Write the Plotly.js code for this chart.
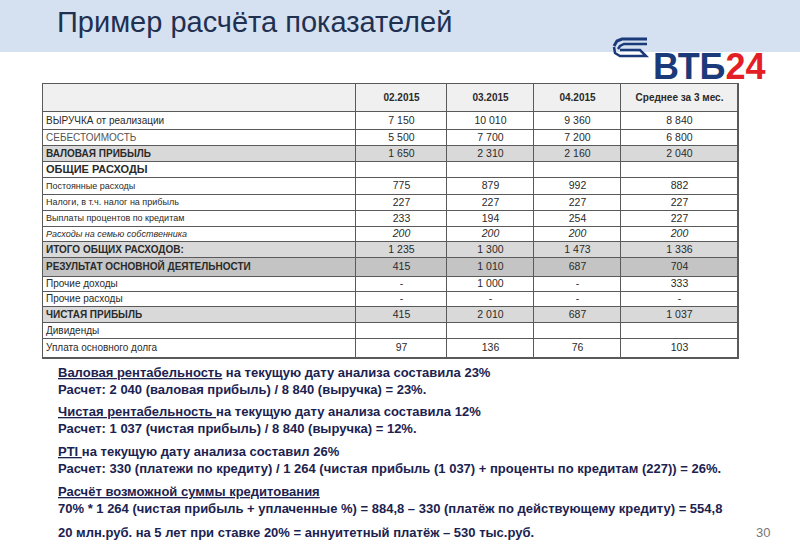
<!DOCTYPE html>
<html>
<head>
<meta charset="utf-8">
<script src="https://cdn.plot.ly/plotly-3.0.1.min.js"></script>
<style>
  html, body { margin: 0; padding: 0; background: #fff; }
  #chart { width: 800px; height: 554px; }
</style>
</head>
<body>
<div id="chart"></div>
<script>
// Table data
const headers = ['', '02.2015', '03.2015', '04.2015', 'Среднее за 3 мес.'];
const rowLabels = [
  'ВЫРУЧКА от реализации',
  'СЕБЕСТОИМОСТЬ',
  '<b>ВАЛОВАЯ ПРИБЫЛЬ</b>',
  '<b>ОБЩИЕ РАСХОДЫ</b>',
  'Постоянные расходы',
  'Налоги, в т.ч. налог на прибыль',
  'Выплаты процентов по кредитам',
  '<i>Расходы на семью собственника</i>',
  '<b>ИТОГО ОБЩИХ РАСХОДОВ:</b>',
  '<b>РЕЗУЛЬТАТ ОСНОВНОЙ ДЕЯТЕЛЬНОСТИ</b>',
  'Прочие доходы',
  'Прочие расходы',
  '<b>ЧИСТАЯ ПРИБЫЛЬ</b>',
  'Дивиденды',
  'Уплата основного долга'
];
const m022015 = ['7 150', '5 500', '1 650', '', '775', '227', '233', '<i>200</i>', '1 235', '415', '-', '-', '415', '', '97'];
const m032015 = ['10 010', '7 700', '2 310', '', '879', '227', '194', '<i>200</i>', '1 300', '1 010', '1 000', '-', '2 010', '', '136'];
const m042015 = ['9 360', '7 200', '2 160', '', '992', '227', '254', '<i>200</i>', '1 473', '687', '-', '-', '687', '', '76'];
const avg3m = ['8 840', '6 800', '2 040', '', '882', '227', '227', '<i>200</i>', '1 336', '704', '333', '-', '1 037', '', '103'];

// row shading: 0 white, 1 grey, 2 dark grey
const rowShade = [0, 0, 1, 0, 0, 0, 0, 0, 1, 2, 0, 0, 1, 0, 0];

// Text under the table, one entry per paragraph
const notes = [
  ['<u>Валовая рентабельность</u> на текущую дату анализа составила 23%',
   'Расчет: 2 040 (валовая прибыль) / 8 840 (выручка) = 23%.'],
  ['<u>Чистая рентабельность </u>на текущую дату анализа составила 12%',
   'Расчет: 1 037 (чистая прибыль) / 8 840 (выручка) = 12%.'],
  ['<u>PTI </u>на текущую дату анализа составил 26%',
   'Расчет: 330 (платежи по кредиту) / 1 264 (чистая прибыль (1 037) + проценты по кредитам (227)) = 26%.'],
  ['<u>Расчёт возможной суммы кредитования</u>',
   '70% * 1 264 (чистая прибыль + уплаченные %) = 884,8 – 330 (платёж по действующему кредиту) = 554,8'],
  ['20 млн.руб. на 5 лет при ставке 20% = аннуитетный платёж – 530 тыс.руб.']
];
const noteMid = [381, 419.5, 459.5, 499.5, 532];

const W = 800, H = 554;
const px = x => x / W;
const py = y => 1 - y / H;

// table geometry (pixels)
const colWidths = [313, 91, 87, 87, 117];
const headerH = 28;
const rowHeights = [18, 16, 16, 16, 17, 16, 16, 15, 16, 19, 15, 15, 16, 16, 19];

const xEdges = [0];
colWidths.forEach(w => xEdges.push(xEdges[xEdges.length - 1] + w));
const yEdges = [0, headerH];
rowHeights.forEach(h => yEdges.push(yEdges[yEdges.length - 1] + h));
const xMid = colWidths.map((w, i) => xEdges[i] + w / 2);
const yMid = yEdges.slice(0, -1).map((y, i) => (y + yEdges[i + 1]) / 2);

const zGrid = [[3, 3, 3, 3, 3]].concat(rowShade.map(s => [s, s, s, s, s]));

const fam = 'Liberation Sans, Arial';
const cellFont = '#2a2a2a';

var bg = {
  type: 'heatmap',
  x: xEdges, y: yEdges, z: zGrid,
  zmin: 0, zmax: 3,
  colorscale: [[0, '#ffffff'], [0.17, '#ffffff'], [0.17, '#d9d9d9'], [0.5, '#d9d9d9'],
               [0.5, '#c4c4c4'], [0.83, '#c4c4c4'], [0.83, '#f0f0f0'], [1, '#f0f0f0']],
  showscale: false, xgap: 1, ygap: 1, hoverinfo: 'skip'
};

var headerText = {
  type: 'scatter', mode: 'text',
  x: xMid.slice(1), y: headers.slice(1).map(() => yMid[0]),
  text: headers.slice(1).map(h => '<b>' + h + '</b>'),
  textposition: 'middle center',
  textfont: { family: fam, size: 10, color: cellFont },
  hoverinfo: 'skip', cliponaxis: false
};

const smallRows = [4, 5, 6, 7];
var labelText = {
  type: 'scatter', mode: 'text',
  x: rowLabels.map(() => 3), y: yMid.slice(1),
  text: rowLabels,
  textposition: 'middle right',
  textfont: {
    family: fam,
    size: rowLabels.map((t, i) => smallRows.includes(i) ? 9 : (i === 3 ? 11 : 10)),
    color: rowLabels.map((t, i) => i === 1 ? '#555' : cellFont)
  },
  hoverinfo: 'skip', cliponaxis: false
};

var valueCols = [m022015, m032015, m042015, avg3m].map((col, j) => ({
  type: 'scatter', mode: 'text',
  x: col.map(() => xMid[j + 1]), y: yMid.slice(1),
  text: col,
  textposition: 'middle center',
  textfont: { family: fam, size: 10.5, color: cellFont },
  hoverinfo: 'skip', cliponaxis: false
}));

var annotations = notes.map((lines, i) => ({
  xref: 'paper', yref: 'paper',
  x: px(56), y: py(noteMid[i]),
  xanchor: 'left', yanchor: 'middle', align: 'left',
  showarrow: false,
  text: lines.map(t => '<b>' + t + '</b>').join('<br>'),
  font: { family: fam, size: 13, color: '#1b2250' }
}));

// slide title
annotations.push({
  xref: 'paper', yref: 'paper', x: px(55), y: py(22),
  xanchor: 'left', yanchor: 'middle', showarrow: false,
  text: 'Пример расчёта показателей',
  font: { family: fam, size: 29, color: '#1f3050' }
});
// logo text
annotations.push({
  xref: 'paper', yref: 'paper', x: px(651), y: py(66),
  xanchor: 'left', yanchor: 'middle', showarrow: false,
  text: '<b>ВТБ<span style="color:#e31e24">24</span></b>',
  font: { family: fam, size: 36, color: '#1b3a7a' }
});
// page number
annotations.push({
  xref: 'paper', yref: 'paper', x: px(772), y: py(532),
  xanchor: 'right', yanchor: 'middle', showarrow: false,
  text: '30',
  font: { family: fam, size: 13, color: '#777' }
});

function pth(pts) {
  return pts.map((p, i) => (i ? 'L ' : 'M ') + px(p[0]) + ' ' + py(p[1])).join(' ');
}

var shapes = [
  { type: 'rect', xref: 'paper', yref: 'paper', x0: 0, x1: 1, y0: py(52), y1: 1,
    fillcolor: '#d5e1f0', line: { width: 0 }, layer: 'below' },
  // logo mark
  { type: 'path', xref: 'paper', yref: 'paper',
    path: pth([[647, 39], [622, 39], [617, 41], [614, 46]]),
    line: { color: '#1b3a7a', width: 3 } },
  { type: 'path', xref: 'paper', yref: 'paper',
    path: pth([[647, 44], [624, 44], [620, 46], [618, 49]]),
    line: { color: '#1b3a7a', width: 2.5 } },
  { type: 'path', xref: 'paper', yref: 'paper',
    path: pth([[614, 47], [615, 53], [620, 56], [646, 56], [640, 50], [620, 50]]),
    line: { color: '#1b3a7a', width: 2.5 } }
];

var layout = {
  width: W,
  height: H,
  margin: { l: 0, r: 0, t: 0, b: 0 },
  paper_bgcolor: 'rgba(0,0,0,0)',
  plot_bgcolor: '#5a5a5a',
  showlegend: false,
  xaxis: {
    domain: [px(43), px(738)], range: [0, xEdges[xEdges.length - 1]],
    showgrid: false, zeroline: false, showticklabels: false, ticks: '',
    showline: true, mirror: true, linecolor: '#5a5a5a', linewidth: 1, fixedrange: true
  },
  yaxis: {
    domain: [py(84 + yEdges[yEdges.length - 1]), py(84)],
    range: [yEdges[yEdges.length - 1], 0],
    showgrid: false, zeroline: false, showticklabels: false, ticks: '',
    showline: true, mirror: true, linecolor: '#5a5a5a', linewidth: 1, fixedrange: true
  },
  annotations: annotations,
  shapes: shapes
};

Plotly.newPlot('chart', [bg, headerText, labelText].concat(valueCols), layout,
  { displayModeBar: false, staticPlot: true });
</script>
</body>
</html>
